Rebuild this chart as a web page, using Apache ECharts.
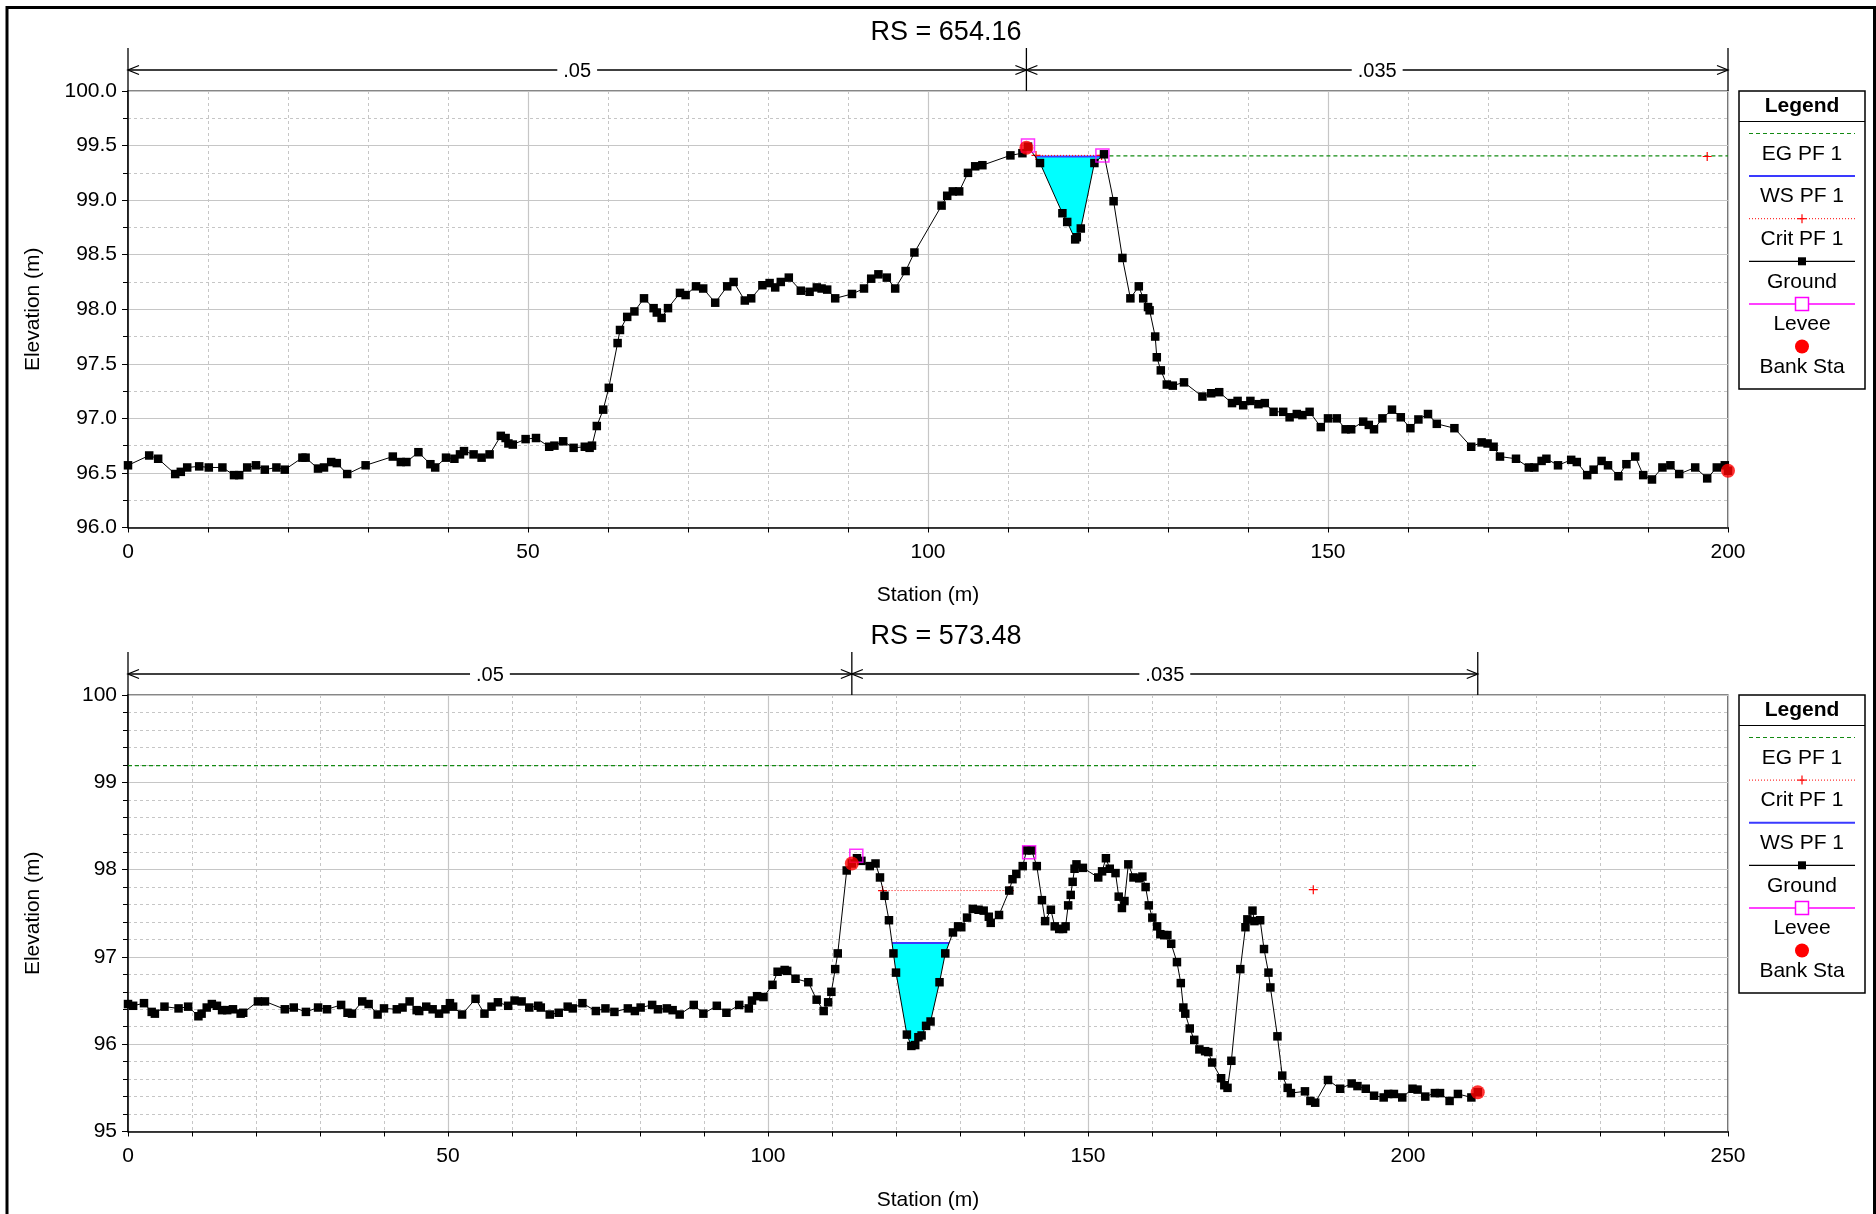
<!DOCTYPE html>
<html>
<head>
<meta charset="utf-8">
<script src="https://cdn.jsdelivr.net/npm/echarts@6/dist/echarts.min.js"></script>
<style>
html,body{margin:0;padding:0;background:#fff;}
#chart{width:1876px;height:1214px;}
</style>
</head>
<body>
<div id="chart"></div>
<script>
// ===== Cross section RS = 654.16 =====
const rs1Title = 'RS = 654.16';
const rs1GroundSta = [0,2.65,3.77,5.9,6.6,7.4,8.9,10.1,11.8,13.25,13.9,14.9,16.0,17.1,18.55,19.6,21.8,22.2,23.75,24.5,25.4,26.1,27.4,29.7,33.1,34.1,34.8,36.3,37.8,38.4,39.75,40.8,41.5,42.0,43.2,44.2,45.2,46.6,47.2,47.55,48.1,49.7,51.0,52.65,53.3,54.4,55.7,57.1,57.7,58.0,58.6,59.4,60.1,61.2,61.5,62.4,63.3,64.5,65.7,66.1,66.7,67.5,69.0,69.7,71.0,71.9,73.4,74.9,75.7,77.1,77.9,79.3,80.2,80.9,81.6,82.6,84.1,85.2,86.1,86.7,87.4,88.4,90.5,92.0,92.9,93.8,94.85,95.9,97.2,98.3,101.7,102.4,103.1,103.9,105.0,105.9,106.8,110.3,111.8,112.5,114.0,116.8,117.4,118.4,118.6,119.1,120.8,122.0,123.2,124.3,125.3,126.35,126.9,127.5,127.7,128.4,128.6,129.1,129.85,130.6,132.0,134.3,135.4,136.4,138.0,138.7,139.4,140.3,141.3,142.1,143.2,144.4,145.2,146.1,146.8,147.7,149.1,150.0,151.1,152.2,152.9,154.4,155.1,155.75,156.8,158.0,159.1,160.3,161.3,162.5,163.6,165.8,167.9,169.2,169.95,170.7,171.5,173.5,175.1,175.8,176.7,177.3,178.75,180.4,181.1,182.4,183.2,184.2,185.0,186.3,187.3,188.4,189.4,190.5,191.8,192.8,193.9,195.9,197.4,198.6,199.6,200];
const rs1GroundElev = [96.57,96.66,96.63,96.49,96.51,96.55,96.56,96.55,96.55,96.48,96.48,96.55,96.57,96.53,96.55,96.53,96.64,96.64,96.54,96.55,96.60,96.59,96.49,96.57,96.65,96.60,96.60,96.69,96.58,96.55,96.64,96.63,96.67,96.70,96.67,96.64,96.67,96.84,96.82,96.77,96.76,96.81,96.82,96.74,96.75,96.79,96.73,96.74,96.73,96.75,96.93,97.08,97.28,97.69,97.81,97.93,97.98,98.10,98.01,97.97,97.92,98.01,98.15,98.13,98.21,98.19,98.06,98.21,98.25,98.08,98.10,98.22,98.24,98.20,98.25,98.29,98.17,98.16,98.20,98.19,98.18,98.10,98.14,98.19,98.28,98.32,98.29,98.19,98.35,98.52,98.95,99.04,99.08,99.08,99.25,99.31,99.32,99.41,99.43,99.49,99.34,98.88,98.80,98.64,98.66,98.74,99.34,99.42,98.99,98.47,98.10,98.21,98.10,98.02,97.99,97.75,97.56,97.44,97.31,97.30,97.33,97.20,97.23,97.24,97.14,97.16,97.12,97.16,97.13,97.14,97.06,97.06,97.01,97.04,97.03,97.06,96.92,97.00,97.00,96.90,96.90,96.97,96.94,96.90,97.00,97.08,97.01,96.91,96.99,97.04,96.95,96.91,96.74,96.78,96.77,96.74,96.65,96.63,96.55,96.55,96.61,96.63,96.57,96.62,96.60,96.48,96.53,96.61,96.57,96.47,96.58,96.65,96.48,96.44,96.55,96.57,96.49,96.55,96.45,96.55,96.57,96.52];
const rs1WsElev = 99.40;
const rs1ChannelWindow = [112.5, 122.0];
const rs1EgElev = 99.405;
const rs1EgStart = 121.8;
const rs1EgEnd = 200;
const rs1CritSegments = [[[113.5, 99.41], [121.7, 99.41]], [[197.4, 99.40]]];
const rs1LeveeSta = [112.5, 121.8];
const rs1LeveeElev = [99.50, 99.41];
const rs1BankSta = [112.3, 200];
const rs1BankElev = [99.48, 96.52];
const rs1NBreaks = [0, 112.3, 200];
const rs1NValues = ['.05', '.035'];
const rs1Legend = ['EG PF 1', 'WS PF 1', 'Crit PF 1', 'Ground', 'Levee', 'Bank Sta'];

// ===== Cross section RS = 573.48 =====
const rs2Title = 'RS = 573.48';
const rs2GroundSta = [0,0.8,2.5,3.7,4.2,5.7,7.9,9.4,11.0,11.5,12.3,13.1,13.9,14.7,15.5,16.4,17.6,18.0,20.3,21.4,24.5,25.9,27.8,29.7,31.1,33.3,34.3,35.0,36.6,37.6,39.0,40.0,42.0,42.9,44.0,45.1,45.5,46.6,47.6,48.6,49.6,50.3,50.8,52.2,54.3,55.7,56.8,57.8,59.4,60.4,61.5,62.7,64.1,64.5,65.9,67.3,68.7,69.5,71.0,73.1,74.6,76.0,78.1,79.2,80.1,81.9,82.8,84.2,85.1,86.2,88.4,89.9,92.0,93.5,95.5,97.0,97.5,98.3,99.3,100.7,101.5,102.6,103.0,104.3,106.3,107.6,108.7,109.4,109.9,110.5,110.9,112.3,113.1,113.9,114.6,115.9,116.8,117.5,118.2,118.9,119.6,120.0,121.7,122.4,123.0,123.5,124.0,124.7,125.4,126.8,127.7,128.9,129.7,130.2,131.1,132.0,132.9,133.7,134.5,134.8,136.1,137.7,138.2,138.8,139.8,140.4,141.2,142.0,142.8,143.3,144.2,144.8,145.5,146.1,146.5,146.9,147.3,147.6,147.9,148.2,149.2,151.6,152.2,152.8,153.4,154.3,154.8,155.3,155.7,156.3,157.1,158.0,158.5,159.0,159.5,160.05,160.8,161.3,161.9,162.4,163.0,163.9,164.5,164.9,165.2,165.9,166.6,167.4,168.3,168.8,169.4,170.8,171.3,171.8,172.4,173.8,174.6,174.9,175.7,176.0,176.9,177.5,178.2,178.5,179.6,180.35,181.2,181.7,183.9,184.75,185.5,187.5,189.4,191.2,192.1,193.4,194.7,196.2,196.9,197.8,199.1,200.7,201.5,202.7,204.2,205.0,206.5,207.8,209.9,210.9];
const rs2GroundElev = [96.46,96.44,96.47,96.37,96.35,96.43,96.41,96.43,96.32,96.35,96.42,96.46,96.44,96.39,96.39,96.40,96.35,96.36,96.49,96.49,96.40,96.42,96.37,96.42,96.40,96.45,96.36,96.35,96.49,96.46,96.34,96.41,96.40,96.42,96.49,96.39,96.38,96.43,96.40,96.35,96.40,96.47,96.43,96.34,96.52,96.35,96.43,96.48,96.44,96.50,96.49,96.42,96.44,96.42,96.34,96.36,96.43,96.41,96.47,96.38,96.41,96.37,96.41,96.38,96.42,96.45,96.40,96.41,96.39,96.34,96.45,96.35,96.44,96.36,96.45,96.41,96.50,96.55,96.54,96.68,96.83,96.85,96.84,96.75,96.71,96.51,96.38,96.48,96.60,96.86,97.04,97.99,98.07,98.13,98.10,98.04,98.07,97.91,97.70,97.42,97.04,96.82,96.11,95.98,95.99,96.08,96.10,96.21,96.26,96.71,97.04,97.28,97.35,97.34,97.45,97.55,97.54,97.53,97.46,97.39,97.48,97.76,97.89,97.95,98.04,98.22,98.22,98.04,97.65,97.41,97.54,97.35,97.32,97.32,97.35,97.59,97.71,97.86,98.01,98.06,98.02,97.91,97.98,98.13,98.01,97.96,97.69,97.56,97.64,98.06,97.91,97.90,97.92,97.80,97.59,97.45,97.35,97.26,97.25,97.25,97.15,96.94,96.70,96.42,96.35,96.18,96.05,95.94,95.92,95.91,95.79,95.61,95.53,95.50,95.81,96.86,97.34,97.43,97.53,97.41,97.42,97.09,96.82,96.65,96.09,95.64,95.50,95.44,95.46,95.35,95.33,95.59,95.49,95.55,95.52,95.49,95.41,95.39,95.43,95.43,95.39,95.49,95.48,95.40,95.44,95.44,95.35,95.43,95.39,95.45];
const rs2WsElev = 97.16;
const rs2ChannelWindow = [118.0, 129.0];
const rs2EgElev = 99.19;
const rs2EgStart = 0;
const rs2EgEnd = 210.9;
const rs2CritSegments = [[[117.9, 97.76], [137.7, 97.76]], [[185.2, 97.77]]];
const rs2LeveeSta = [113.8, 140.8];
const rs2LeveeElev = [98.16, 98.20];
const rs2BankSta = [113.1, 210.9];
const rs2BankElev = [98.07, 95.45];
const rs2NBreaks = [0, 113.1, 210.9];
const rs2NValues = ['.05', '.035'];
const rs2Legend = ['EG PF 1', 'Crit PF 1', 'WS PF 1', 'Ground', 'Levee', 'Bank Sta'];

// ===== Styling =====
const FONT = '"Liberation Sans", Arial, Helvetica, sans-serif';
const C_EG = '#138a13';
const C_WS = '#3a3aff';
const C_FILL = '#00ffff';
const C_CRIT = '#ff0000';
const C_LEVEE = '#ff00ff';
const C_BANK = '#ff0000';
const C_GRID = '#c6c6c6';
const PLUS = 'path://M5,0L5,10M0,5L10,5';

// Wetted channel polygon: from the channel low point, walk out to where the ground meets the water surface.
function wetPolygon(sta, elev, ws, win) {
  let iMin = -1;
  for (let i = 0; i < sta.length; i++) {
    if (sta[i] >= win[0] && sta[i] <= win[1] && (iMin < 0 || elev[i] < elev[iMin])) iMin = i;
  }
  let l = iMin;
  while (l > 0 && elev[l - 1] < ws) l--;
  let r = iMin;
  while (r < sta.length - 1 && elev[r + 1] < ws) r++;
  const xl = sta[l - 1] + (ws - elev[l - 1]) * (sta[l] - sta[l - 1]) / (elev[l] - elev[l - 1]);
  const xr = sta[r] + (ws - elev[r]) * (sta[r + 1] - sta[r]) / (elev[r + 1] - elev[r]);
  const pts = [[xl, ws]];
  for (let i = l; i <= r; i++) pts.push([sta[i], elev[i]]);
  pts.push([xr, ws]);
  return pts;
}

function makeAxes(idx, cfg) {
  const x = {
    type: 'value', gridIndex: idx, min: 0, max: cfg.xMax, interval: 50,
    name: 'Station (m)', nameLocation: 'middle', nameGap: cfg.xNameGap,
    nameTextStyle: { fontSize: 21, color: '#000', fontFamily: FONT },
    axisLine: { show: true, onZero: false, lineStyle: { color: '#000', width: 1.5 } },
    axisTick: { show: true, inside: false, length: 5, lineStyle: { color: '#000' } },
    minorTick: { show: true, splitNumber: 5, length: 5, lineStyle: { color: '#000' } },
    axisLabel: { fontSize: 21, color: '#000', fontFamily: FONT, margin: 14 },
    splitLine: { show: true, lineStyle: { color: C_GRID, width: 1.2 } },
    minorSplitLine: { show: true, lineStyle: { color: C_GRID, type: [3, 3], width: 1 } }
  };
  const y = {
    type: 'value', gridIndex: idx, min: cfg.yMin, max: cfg.yMax, interval: cfg.yInterval,
    name: 'Elevation (m)', nameLocation: 'middle', nameGap: cfg.yNameGap, nameRotate: 90,
    nameTextStyle: { fontSize: 21, color: '#000', fontFamily: FONT },
    axisLine: { show: true, onZero: false, lineStyle: { color: '#000', width: 1.5 } },
    axisTick: { show: true, inside: false, length: 6, lineStyle: { color: '#000' } },
    minorTick: { show: true, splitNumber: cfg.yMinor, length: 5, lineStyle: { color: '#000' } },
    axisLabel: { fontSize: 21, color: '#000', fontFamily: FONT, margin: 11, formatter: cfg.yFmt },
    splitLine: { show: true, lineStyle: { color: C_GRID, width: 1.2 } },
    minorSplitLine: { show: true, lineStyle: { color: C_GRID, type: [3, 3], width: 1 } }
  };
  return { x, y };
}

function makeSeries(idx, d) {
  const poly = wetPolygon(d.sta, d.elev, d.ws, d.win);
  const wsL = poly[0][0], wsR = poly[poly.length - 1][0];
  const list = [];
  // water in the main channel
  list.push({
    type: 'custom', xAxisIndex: idx, yAxisIndex: idx, z: 2, silent: true,
    data: [[wsL, d.ws]],
    renderItem: function (params, api) {
      const pts = poly.map(p => api.coord(p));
      return { type: 'polygon', shape: { points: pts }, style: { fill: C_FILL, stroke: null } };
    }
  });
  // energy grade line
  list.push({
    type: 'line', xAxisIndex: idx, yAxisIndex: idx, z: 3, silent: true, symbol: 'none',
    data: [[d.egStart, d.eg], [d.egEnd, d.eg]],
    lineStyle: { color: C_EG, width: 1.2, type: [4, 3] }
  });
  // water surface
  list.push({
    type: 'line', xAxisIndex: idx, yAxisIndex: idx, z: 4, silent: true, symbol: 'none',
    data: [[wsL, d.ws], [wsR, d.ws]],
    lineStyle: { color: C_WS, width: 2 }
  });
  // critical depth
  d.crit.forEach(seg => {
    list.push({
      type: 'line', xAxisIndex: idx, yAxisIndex: idx, z: 5, silent: true,
      data: seg, symbol: PLUS, symbolSize: 9, showAllSymbol: true,
      itemStyle: { color: 'rgba(0,0,0,0)', borderColor: C_CRIT, borderWidth: 1.2 },
      lineStyle: { color: C_CRIT, width: 1, type: [1, 2] }
    });
  });
  // ground profile
  list.push({
    type: 'line', xAxisIndex: idx, yAxisIndex: idx, z: 6, silent: true,
    data: d.sta.map((s, i) => [s, d.elev[i]]),
    symbol: 'rect', symbolSize: 8.5, showAllSymbol: true,
    itemStyle: { color: '#000' }, lineStyle: { color: '#000', width: 1 }
  });
  // levees
  list.push({
    type: 'scatter', xAxisIndex: idx, yAxisIndex: idx, z: 7, silent: true,
    data: d.leveeSta.map((s, i) => [s, d.leveeElev[i]]),
    symbol: 'rect', symbolSize: 13,
    itemStyle: { color: 'rgba(0,0,0,0)', borderColor: C_LEVEE, borderWidth: 1.5 }
  });
  // bank stations
  list.push({
    type: 'scatter', xAxisIndex: idx, yAxisIndex: idx, z: 8, silent: true,
    data: d.bankSta.map((s, i) => [s, d.bankElev[i]]),
    symbol: 'circle', symbolSize: 14, itemStyle: { color: C_BANK }
  });
  // Manning's n dimension lines above the plot
  list.push({
    type: 'custom', xAxisIndex: idx, yAxisIndex: idx, z: 9, silent: true, clip: false,
    data: [[0, d.yMax]],
    renderItem: function (params, api) {
      const top = api.coord([0, d.yMax])[1];
      const yl = top - 21, yv = top - 43;
      const xs = d.breaks.map(b => api.coord([b, d.yMax])[0]);
      const ch = [];
      const ls = { stroke: '#000', lineWidth: 1.3, fill: null };
      xs.forEach(x => ch.push({ type: 'line', shape: { x1: x, y1: yv, x2: x, y2: top }, style: ls }));
      ch.push({ type: 'line', shape: { x1: xs[0], y1: yl, x2: xs[xs.length - 1], y2: yl }, style: ls });
      const aw = 11, ah = 4.5;
      xs.forEach((x, k) => {
        if (k < xs.length - 1) ch.push({ type: 'polyline', shape: { points: [[x + aw, yl - ah], [x, yl], [x + aw, yl + ah]] }, style: ls });
        if (k > 0) ch.push({ type: 'polyline', shape: { points: [[x - aw, yl - ah], [x, yl], [x - aw, yl + ah]] }, style: ls });
      });
      d.nValues.forEach((v, k) => {
        ch.push({
          type: 'text',
          style: {
            text: v, x: (xs[k] + xs[k + 1]) / 2, y: yl + 1, align: 'center', verticalAlign: 'middle',
            fill: '#000', font: '20px ' + FONT, backgroundColor: '#fff', padding: [1, 6]
          }
        });
      });
      return { type: 'group', children: ch };
    }
  });
  return list;
}

function legendGraphic(top, names) {
  const left = 1739, w = 126, h = 298, cx = left + w / 2;
  const x1 = 1749, x2 = 1855;
  const els = [];
  els.push({ type: 'rect', shape: { x: left, y: top, width: w, height: h }, style: { fill: '#fff', stroke: '#000', lineWidth: 1.5 } });
  els.push({ type: 'text', style: { text: 'Legend', x: cx, y: top + 15, align: 'center', verticalAlign: 'middle', font: 'bold 21px ' + FONT, fill: '#000' } });
  els.push({ type: 'line', shape: { x1: left, y1: top + 30.5, x2: left + w, y2: top + 30.5 }, style: { stroke: '#000', lineWidth: 1.2 } });
  names.forEach((n, k) => {
    const ly = top + 42.5 + k * 42.6;
    if (n === 'EG PF 1') {
      els.push({ type: 'line', shape: { x1, y1: ly, x2, y2: ly }, style: { stroke: C_EG, lineWidth: 1.2, lineDash: [4, 3] } });
    } else if (n === 'WS PF 1') {
      els.push({ type: 'line', shape: { x1, y1: ly, x2, y2: ly }, style: { stroke: C_WS, lineWidth: 2 } });
    } else if (n === 'Crit PF 1') {
      els.push({ type: 'line', shape: { x1, y1: ly, x2, y2: ly }, style: { stroke: C_CRIT, lineWidth: 1, lineDash: [1, 2] } });
      els.push({ type: 'line', shape: { x1: cx - 4.5, y1: ly, x2: cx + 4.5, y2: ly }, style: { stroke: C_CRIT, lineWidth: 1.2 } });
      els.push({ type: 'line', shape: { x1: cx, y1: ly - 4.5, x2: cx, y2: ly + 4.5 }, style: { stroke: C_CRIT, lineWidth: 1.2 } });
    } else if (n === 'Ground') {
      els.push({ type: 'line', shape: { x1, y1: ly, x2, y2: ly }, style: { stroke: '#000', lineWidth: 1.2 } });
      els.push({ type: 'rect', shape: { x: cx - 4, y: ly - 4, width: 8, height: 8 }, style: { fill: '#000' } });
    } else if (n === 'Levee') {
      els.push({ type: 'line', shape: { x1, y1: ly, x2, y2: ly }, style: { stroke: C_LEVEE, lineWidth: 1.5 } });
      els.push({ type: 'rect', shape: { x: cx - 6.5, y: ly - 6.5, width: 13, height: 13 }, style: { fill: '#fff', stroke: C_LEVEE, lineWidth: 1.5 } });
    } else if (n === 'Bank Sta') {
      els.push({ type: 'circle', shape: { cx, cy: ly, r: 7 }, style: { fill: C_BANK } });
    }
    els.push({ type: 'text', style: { text: n, x: cx, y: ly + 20.5, align: 'center', verticalAlign: 'middle', font: '21px ' + FONT, fill: '#000' } });
  });
  return els;
}

const a1 = makeAxes(0, { xMax: 200, yMin: 96, yMax: 100, yInterval: 0.5, yMinor: 2, yFmt: v => v.toFixed(1), xNameGap: 57, yNameGap: 84 });
const a2 = makeAxes(1, { xMax: 250, yMin: 95, yMax: 100, yInterval: 1, yMinor: 5, yFmt: v => String(v), xNameGap: 58, yNameGap: 84 });

const s1 = makeSeries(0, {
  sta: rs1GroundSta, elev: rs1GroundElev, ws: rs1WsElev, win: rs1ChannelWindow,
  eg: rs1EgElev, egStart: rs1EgStart, egEnd: rs1EgEnd, crit: rs1CritSegments,
  leveeSta: rs1LeveeSta, leveeElev: rs1LeveeElev, bankSta: rs1BankSta, bankElev: rs1BankElev,
  breaks: rs1NBreaks, nValues: rs1NValues, yMax: 100
});
const s2 = makeSeries(1, {
  sta: rs2GroundSta, elev: rs2GroundElev, ws: rs2WsElev, win: rs2ChannelWindow,
  eg: rs2EgElev, egStart: rs2EgStart, egEnd: rs2EgEnd, crit: rs2CritSegments,
  leveeSta: rs2LeveeSta, leveeElev: rs2LeveeElev, bankSta: rs2BankSta, bankElev: rs2BankElev,
  breaks: rs2NBreaks, nValues: rs2NValues, yMax: 100
});

const chart = echarts.init(document.getElementById('chart'), null, { renderer: 'canvas' });
chart.setOption({
  animation: false,
  backgroundColor: '#fff',
  textStyle: { fontFamily: FONT },
  grid: [
    { left: 128, top: 91, width: 1600, height: 436.5, show: true, borderColor: '#111', borderWidth: 1.2, backgroundColor: 'rgba(0,0,0,0)' },
    { left: 128, top: 695, width: 1600, height: 436.5, show: true, borderColor: '#111', borderWidth: 1.2, backgroundColor: 'rgba(0,0,0,0)' }
  ],
  xAxis: [a1.x, a2.x],
  yAxis: [a1.y, a2.y],
  series: s1.concat(s2),
  graphic: [
    { type: 'rect', silent: true, shape: { x: 7, y: 7.5, width: 1867.5, height: 1225 }, style: { fill: null, stroke: '#000', lineWidth: 3 } },
    { type: 'text', silent: true, style: { text: rs1Title, x: 946, y: 32.5, align: 'center', verticalAlign: 'middle', font: '27px ' + FONT, fill: '#000' } },
    { type: 'text', silent: true, style: { text: rs2Title, x: 946, y: 636.5, align: 'center', verticalAlign: 'middle', font: '27px ' + FONT, fill: '#000' } },
    { type: 'group', silent: true, children: legendGraphic(91, rs1Legend) },
    { type: 'group', silent: true, children: legendGraphic(695, rs2Legend) }
  ]
});
</script>
</body>
</html>
